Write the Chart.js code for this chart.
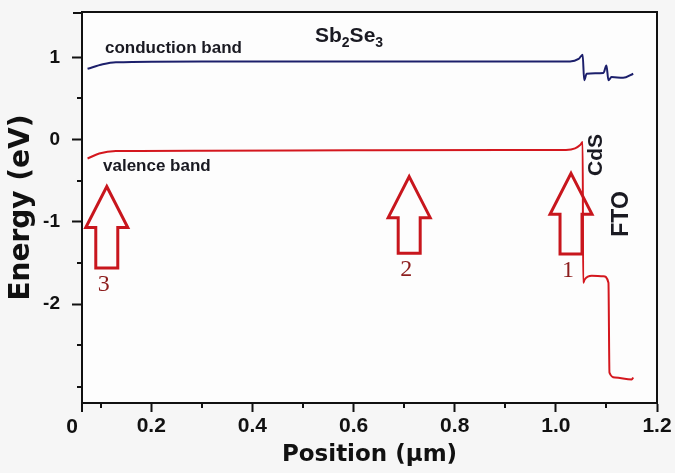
<!DOCTYPE html>
<html>
<head>
<meta charset="utf-8">
<script src="https://cdn.jsdelivr.net/npm/chart.js@4.4.0/dist/chart.umd.min.js"></script>
<style>
  html, body { margin: 0; padding: 0; background: #f6f6f6; }
  #wrap { width: 675px; height: 473px; }
</style>
</head>
<body>
<div id="wrap"><canvas id="bands" width="675" height="473"></canvas></div>
<script>
// Band diagram, Sb2Se3 / CdS / FTO

// conduction band (position in um, energy in eV)
const condX = [0.074, 0.104, 0.130, 0.30, 0.60, 0.90, 1.028, 1.045, 1.053, 1.056, 1.061, 1.094, 1.100, 1.104, 1.110, 1.133, 1.153];
const condY = [0.86, 0.915, 0.94, 0.95, 0.95, 0.95, 0.95, 0.98, 1.03, 0.72, 0.80, 0.81, 0.90, 0.72, 0.76, 0.75, 0.80];

// valence band
const valX = [0.074, 0.097, 0.130, 0.30, 0.60, 0.90, 1.020, 1.038, 1.048, 1.053, 1.054, 1.057, 1.071, 1.094, 1.104, 1.106, 1.117, 1.150, 1.153];
const valY = [-0.23, -0.17, -0.14, -0.135, -0.13, -0.127, -0.125, -0.107, -0.067, -0.03, -1.74, -1.70, -1.655, -1.66, -1.74, -2.83, -2.89, -2.915, -2.89];

// tick labels
const xTicks = [0.2, 0.4, 0.6, 0.8, 1.0, 1.2];
const xMinor = [0.1, 0.3, 0.5, 0.7, 0.9, 1.1];
const yTicks = [-2, -1, 0, 1];
const yMinor = [-3, -2.5, -1.5, -0.5, 0.5];

// arrows: x, tip energy, base energy, label
const arrows = [
  { x: 0.112, tip: -0.57, base: -1.56, label: "3" },
  { x: 0.710, tip: -0.45, base: -1.38, label: "2" },
  { x: 1.030, tip: -0.41, base: -1.39, label: "1" },
];

const ink = "#111111";
const pts = (xs, ys) => xs.map((x, i) => ({ x: x, y: ys[i] }));

const extras = {
  id: "extras",
  beforeDraw(chart) {
    const { ctx, chartArea: a } = chart;
    ctx.save();
    ctx.fillStyle = "#fdfdfd";
    ctx.fillRect(a.left, a.top, a.right - a.left, a.bottom - a.top);
    ctx.restore();
  },
  afterDraw(chart) {
    const { ctx, chartArea: a, scales } = chart;
    const xs = scales.x, ys = scales.y;
    ctx.save();
    ctx.strokeStyle = ink;
    ctx.lineWidth = 2;
    ctx.strokeRect(a.left, a.top, a.right - a.left, a.bottom - a.top);

    // minor ticks
    ctx.beginPath();
    xMinor.forEach(v => {
      const p = Math.round(xs.getPixelForValue(v));
      ctx.moveTo(p, a.bottom); ctx.lineTo(p, a.bottom + 5);
    });
    yMinor.forEach(v => {
      const p = Math.round(ys.getPixelForValue(v));
      ctx.moveTo(a.left, p); ctx.lineTo(a.left - 5, p);
    });
    ctx.moveTo(a.left, a.bottom); ctx.lineTo(a.left, a.bottom + 9);
    ctx.moveTo(a.left, a.top + 1); ctx.lineTo(a.left - 9, a.top + 1);
    ctx.stroke();

    // corner zero
    ctx.fillStyle = ink;
    ctx.font = 'bold 21px "Liberation Sans"';
    ctx.textAlign = "center";
    ctx.textBaseline = "middle";
    ctx.fillText("0", 72, 427);

    // arrows
    arrows.forEach(ar => {
      const cx = xs.getPixelForValue(ar.x);
      const tip = ys.getPixelForValue(ar.tip);
      const base = ys.getPixelForValue(ar.base);
      const neck = tip + 41;
      ctx.beginPath();
      ctx.moveTo(cx, tip);
      ctx.lineTo(cx + 21, neck);
      ctx.lineTo(cx + 11, neck);
      ctx.lineTo(cx + 11, base);
      ctx.lineTo(cx - 11, base);
      ctx.lineTo(cx - 11, neck);
      ctx.lineTo(cx - 21, neck);
      ctx.closePath();
      ctx.strokeStyle = "#c8161d";
      ctx.lineWidth = 3;
      ctx.lineJoin = "miter";
      ctx.stroke();
      ctx.fillStyle = "#8c1d1d";
      ctx.font = '24px "Liberation Serif"';
      ctx.fillText(ar.label, cx - 3, base + 17);
    });

    // band and layer labels
    ctx.fillStyle = "#1a1a22";
    ctx.textAlign = "left";
    ctx.font = 'bold 17px "Liberation Sans"';
    ctx.fillText("conduction band", 105, 48);
    ctx.fillText("valence band", 103, 166);

    ctx.textBaseline = "alphabetic";
    ctx.font = 'bold 21px "Liberation Sans"';
    let x = 315;
    ctx.fillText("Sb", x, 42); x += ctx.measureText("Sb").width;
    ctx.font = 'bold 14px "Liberation Sans"';
    ctx.fillText("2", x, 47); x += ctx.measureText("2").width;
    ctx.font = 'bold 21px "Liberation Sans"';
    ctx.fillText("Se", x, 42); x += ctx.measureText("Se").width;
    ctx.font = 'bold 14px "Liberation Sans"';
    ctx.fillText("3", x, 47);

    ctx.textAlign = "center";
    ctx.textBaseline = "middle";
    ctx.translate(596, 155);
    ctx.rotate(-Math.PI / 2);
    ctx.font = 'bold 21px "Liberation Sans"';
    ctx.fillText("CdS", 0, 0);
    ctx.rotate(Math.PI / 2);
    ctx.translate(622 - 596, 214 - 155);
    ctx.rotate(-Math.PI / 2);
    ctx.font = 'bold 23px "Liberation Sans"';
    ctx.fillText("FTO", 0, 0);
    ctx.restore();
  },
};

new Chart(document.getElementById("bands"), {
  type: "scatter",
  data: {
    datasets: [
      {
        label: "conduction band",
        data: pts(condX, condY),
        showLine: true,
        borderColor: "#1c1f6b",
        borderWidth: 2,
        pointRadius: 0,
        cubicInterpolationMode: "monotone",
      },
      {
        label: "valence band",
        data: pts(valX, valY),
        showLine: true,
        borderColor: "#d4171e",
        borderWidth: 2,
        pointRadius: 0,
        cubicInterpolationMode: "monotone",
      },
    ],
  },
  options: {
    responsive: false,
    animation: false,
    devicePixelRatio: 1,
    layout: { padding: { top: 12, right: 18, left: 0, bottom: 0 } },
    plugins: {
      legend: { display: false },
      tooltip: { enabled: false },
    },
    scales: {
      x: {
        type: "linear",
        min: 0.063,
        max: 1.2,
        afterBuildTicks: s => { s.ticks = xTicks.map(v => ({ value: v })); },
        afterFit: s => { s.height = 70; s.paddingLeft = 0; s.paddingRight = 0; },
        ticks: {
          callback: v => v.toFixed(1),
          color: ink,
          font: { family: "Liberation Sans", size: 21, weight: "bold" },
          padding: 2,
          autoSkip: false,
          maxRotation: 0,
        },
        grid: { drawOnChartArea: false, tickLength: 9, tickWidth: 2, tickColor: ink },
        border: { color: ink, width: 2 },
        title: {
          display: true,
          text: "Position (µm)",
          color: ink,
          font: { family: "DejaVu Sans", size: 23, weight: "bold" },
          padding: { top: 0, bottom: 4 },
        },
      },
      y: {
        min: -3.2,
        max: 1.55,
        afterBuildTicks: s => { s.ticks = yTicks.map(v => ({ value: v })); },
        afterFit: s => { s.width = 82; s.paddingTop = 0; s.paddingBottom = 0; },
        ticks: {
          callback: v => String(v),
          color: ink,
          font: { family: "Liberation Sans", size: 19, weight: "bold" },
          padding: 12,
        },
        grid: { drawOnChartArea: false, tickLength: 10, tickWidth: 2, tickColor: ink },
        border: { color: ink, width: 2 },
        title: {
          display: true,
          text: "Energy (eV)",
          color: ink,
          font: { family: "DejaVu Sans", size: 28, weight: "bold" },
          padding: { top: 5, bottom: 0 },
        },
      },
    },
  },
  plugins: [extras],
});
</script>
</body>
</html>
